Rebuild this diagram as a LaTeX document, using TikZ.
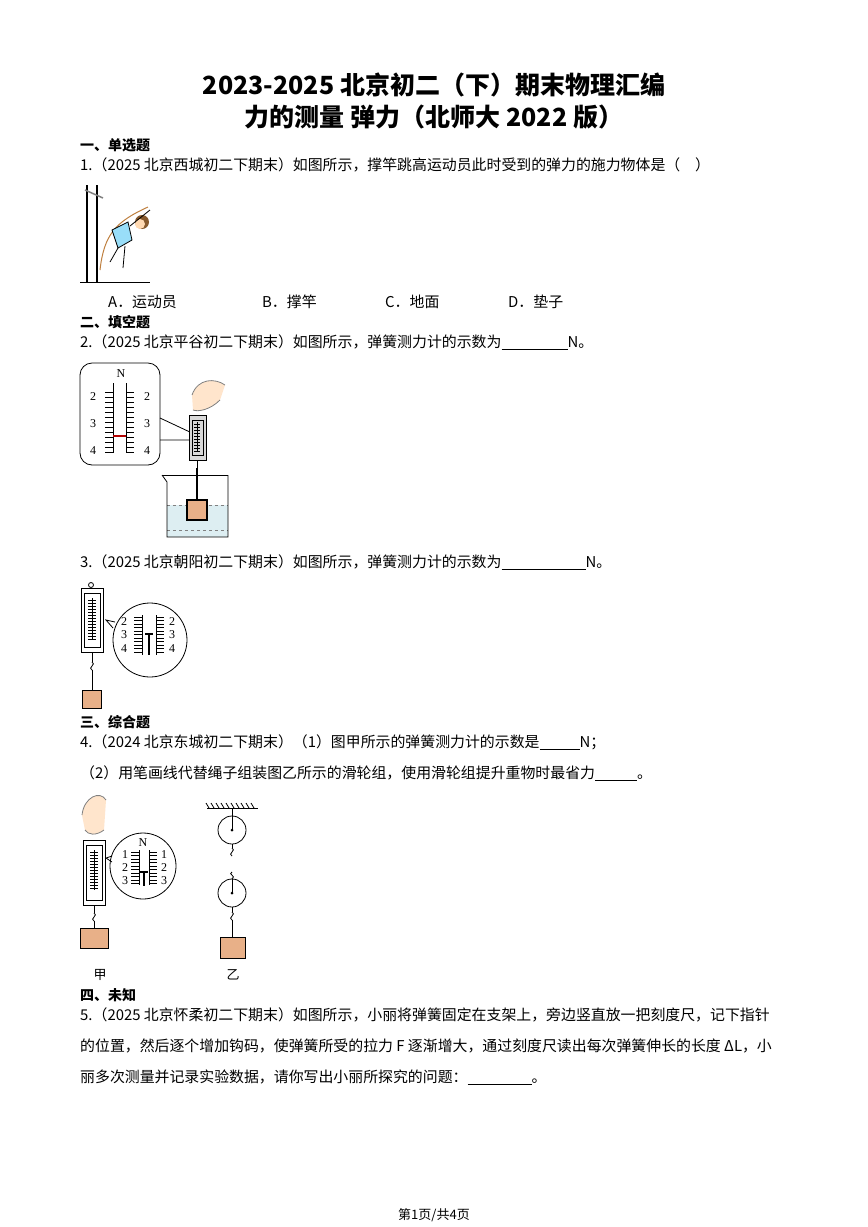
\documentclass[tikz,border=0pt]{standalone}
\usepackage{fontspec}
\setmainfont{Noto Sans CJK SC}
\newfontfamily\latinf{Liberation Serif}
\definecolor{blk}{HTML}{E8B088}
\definecolor{water}{HTML}{DDEEF2}
\newcommand{\blk}[1]{\rule[-2pt]{#1}{0.6pt}}
\tikzset{
 txt/.style={anchor=west,inner sep=0pt,font=\fontsize{14.9}{16}\selectfont},
 head/.style={anchor=west,inner sep=0pt,font=\fontsize{14}{15}\selectfont\bfseries},
 ttl/.style={inner sep=0pt,font=\fontsize{25}{28}\selectfont\bfseries},
 fig/.style={line width=0.8pt},
 num/.style={inner sep=0pt,font=\latinf\fontsize{12}{12}\selectfont}
}
\begin{document}
\begin{tikzpicture}[x=1pt,y=-1pt]
\useasboundingbox[fill=white] (0,0) rectangle (868,1227);
\node[ttl] (t1) at (434,85) {2023-2025 北京初二（下）期末物理汇编};
\node[ttl] (t2) at (434,117) {力的测量\ 弹力（北师大 2022 版）};
\node[head] (h1) at (80,145) {一、单选题};
\node[txt] (q1) at (80,165) {1.（2025 北京西城初二下期末）如图所示，撑竿跳高运动员此时受到的弹力的施力物体是（\quad ）};
% figure 1
\begin{scope}[fig]
\draw[line width=1.2pt] (87,185) -- (87,282);
\draw[line width=1.2pt] (97,185) -- (97,282);
\draw (80,282) -- (150,282);
\draw[line width=1.5pt,gray] (85,190) -- (103,198);
\draw[brown,line width=1pt] (100,270) .. controls (104,235) and (115,222) .. (148,207);
\fill[cyan!40] (112,230) -- (128,222) -- (132,240) -- (118,248) -- cycle;
\draw (112,230) -- (128,222) -- (132,240) -- (118,248) -- cycle;
\fill[brown!70!black] (142,222) circle (7);
\fill[orange!30] (140,224) circle (5);
\draw (118,248) -- (110,262) (125,246) -- (123,268);
\draw (130,226) -- (150,210);
\end{scope}
\node[txt] (oa) at (108,302) {A．运动员};
\node[txt] (ob) at (262,302) {B．撑竿};
\node[txt] (oc) at (385,302) {C．地面};
\node[txt] (od) at (508,302) {D．垫子};
\node[head] (h2) at (80,322) {二、填空题};
\node[txt] (q2) at (80,342) {2.（2025 北京平谷初二下期末）如图所示，弹簧测力计的示数为\blk{66pt}N。};
% figure 2
\begin{scope}[fig]
\draw[rounded corners=12pt] (80,363) rectangle (160,465);
\draw (160,418) -- (192,433) (160,440) -- (192,440);
\node[num] (n2) at (121,374) {N};
\draw (113,383) -- (113,453) (126,383) -- (126,453);
\foreach \i in {0,...,12} {\draw (105,{392+\i*5}) -- (113,{392+\i*5}); \draw (126,{392+\i*5}) -- (134,{392+\i*5});}
\draw[red!70!black,line width=1.3pt] (113,436) -- (126,436);
\node[num] (a2) at (93,397) {2}; \node[num] (b2) at (147,397) {2};
\node[num] (a3) at (93,424) {3}; \node[num] (b3) at (147,424) {3};
\node[num] (a4) at (93,451) {4}; \node[num] (b4) at (147,451) {4};
\fill[orange!20] (192,395) .. controls (198,378) and (215,378) .. (225,385) -- (220,400) .. controls (210,410) and (198,412) .. (193,410) -- cycle;
\draw[gray] (192,395) .. controls (198,378) and (215,378) .. (225,385) (193,410) .. controls (198,412) and (210,410) .. (220,400);
\fill[gray!30] (189,415) rectangle (206,460);
\draw (189,415) rectangle (206,460);
\draw (192,420) rectangle (203,455);
\draw (197,422) -- (197,452);
\foreach \i in {0,...,9} \draw (194,{424+\i*3}) -- (200,{424+\i*3});
\draw (197,460) -- (197,468);
\draw[line width=1.5pt] (197,468) -- (197,500);
\fill[water] (167,505) rectangle (228,537);
\draw[dashed,gray] (167,505) -- (228,505) (167,530) -- (228,530);
\draw (162,475) -- (167,482) -- (167,537) -- (228,537) -- (228,475);
\draw (162,475) -- (228,475);
\fill[blk] (187,500) rectangle (207,520);
\draw[line width=1.2pt] (187,500) rectangle (207,520);
\end{scope}
\node[txt] (q3) at (80,562) {3.（2025 北京朝阳初二下期末）如图所示，弹簧测力计的示数为\blk{84pt}N。};
% figure 3
\begin{scope}[fig]
\draw (91,585) circle (2.5);
\draw (81,588) rectangle (103,652);
\draw (84,593) rectangle (100,647);
\draw (92,598) -- (92,640);
\foreach \i in {0,...,13} \draw (88,{600+\i*3}) -- (96,{600+\i*3});
\draw (92,652) -- (92,662);
\draw (92,662) .. controls (97,664) and (87,668) .. (92,670);
\draw (92,670) -- (92,690);
\fill[blk] (82,690) rectangle (101,708);
\draw (82,690) rectangle (101,708);
\draw (150,640) circle (37);
\draw (113,628) -- (106,620) -- (115,622);
\node[num] (c2) at (124,622) {2}; \node[num] (d2) at (172,622) {2};
\node[num] (c3) at (124,635) {3}; \node[num] (d3) at (172,635) {3};
\node[num] (c4) at (124,649) {4}; \node[num] (d4) at (172,649) {4};
\draw (142,615) -- (142,655) (156,615) -- (156,655);
\foreach \i in {0,...,10} {\draw (134,{617+\i*3.5}) -- (142,{617+\i*3.5}); \draw (156,{617+\i*3.5}) -- (164,{617+\i*3.5});}
\draw[line width=1.5pt] (149,634) -- (149,655);
\draw[line width=1.2pt] (145,634) -- (153,634);
\end{scope}
\node[head] (h3) at (80,722) {三、综合题};
\node[txt] (q4a) at (80,742) {4.（2024 北京东城初二下期末）（1）图甲所示的弹簧测力计的示数是\blk{40pt}N；};
\node[txt] (q4b) at (80,773) {（2）用笔画线代替绳子组装图乙所示的滑轮组，使用滑轮组提升重物时最省力\blk{42pt}。};
% figure 4 jia
\begin{scope}[fig]
\fill[orange!20] (82,815) .. controls (84,797) and (100,790) .. (106,800) -- (104,830) .. controls (96,836) and (88,835) .. (85,830) -- cycle;
\draw[gray] (82,815) .. controls (84,797) and (100,790) .. (106,800) (85,830) .. controls (88,835) and (96,836) .. (104,830);
\draw (83,840) rectangle (105,905);
\draw (86,845) rectangle (102,900);
\draw (94,850) -- (94,890);
\foreach \i in {0,...,12} \draw (90,{852+\i*3}) -- (98,{852+\i*3});
\draw (94,905) -- (94,913);
\draw (94,913) .. controls (99,915) and (89,919) .. (94,921);
\draw (94,921) -- (94,928);
\fill[blk] (80,928) rectangle (108,948);
\draw (80,928) rectangle (108,948);
\draw (143,866) circle (33);
\draw (112,856) -- (106,858) -- (112,862);
\node[num] (j0) at (143,843) {N};
\node[num] (j1) at (125,855) {1}; \node[num] (k1) at (164,855) {1};
\node[num] (j2) at (125,868) {2}; \node[num] (k2) at (164,868) {2};
\node[num] (j3) at (125,881) {3}; \node[num] (k3) at (164,881) {3};
\draw (139,850) -- (139,885) (149,850) -- (149,885);
\foreach \i in {0,...,9} {\draw (131,{852+\i*3.5}) -- (139,{852+\i*3.5}); \draw (149,{852+\i*3.5}) -- (157,{852+\i*3.5});}
\draw[line width=1.4pt] (144,872) -- (144,886);
\draw[line width=1.2pt] (140,872) -- (148,872);
% yi
\draw (207,808) -- (258,808);
\foreach \i in {0,...,9} \draw ({209+\i*5},808) -- ({206+\i*5},803);
\draw (232,808) -- (232,830);
\draw (232,830) circle (14);
\fill (232,830) circle (1.5);
\draw (232,844) -- (232,848);
\draw (232,848) .. controls (237,850) and (227,854) .. (232,856);
\draw (232,872) .. controls (227,874) and (237,876) .. (232,879);
\draw (232,879) -- (232,893);
\draw (232,893) circle (14);
\fill (232,893) circle (1.5);
\draw (232,907) -- (232,912);
\draw (232,912) .. controls (237,914) and (227,918) .. (232,920);
\draw (232,920) -- (232,937);
\fill[blk] (220,937) rectangle (245,958);
\draw (220,937) rectangle (245,958);
\end{scope}
\node[inner sep=0pt,font=\fontsize{13}{13}\selectfont] (jia) at (100,975) {甲};
\node[inner sep=0pt,font=\fontsize{13}{13}\selectfont] (yi) at (233,975) {乙};
\node[head] (h4) at (80,995) {四、未知};
\node[txt] (q5a) at (80,1015) {5.（2025 北京怀柔初二下期末）如图所示，小丽将弹簧固定在支架上，旁边竖直放一把刻度尺，记下指针};
\node[txt] (q5b) at (80,1046) {的位置，然后逐个增加钩码，使弹簧所受的拉力 \textit{F} 逐渐增大，通过刻度尺读出每次弹簧伸长的长度 Δ\textit{L}，小};
\node[txt] (q5c) at (80,1077) {丽多次测量并记录实验数据，请你写出小丽所探究的问题：\blk{64pt}。};
\node[inner sep=0pt,font=\fontsize{13}{13}\selectfont] (ft) at (434,1215) {第1页/共4页};
\end{tikzpicture}
\end{document}
